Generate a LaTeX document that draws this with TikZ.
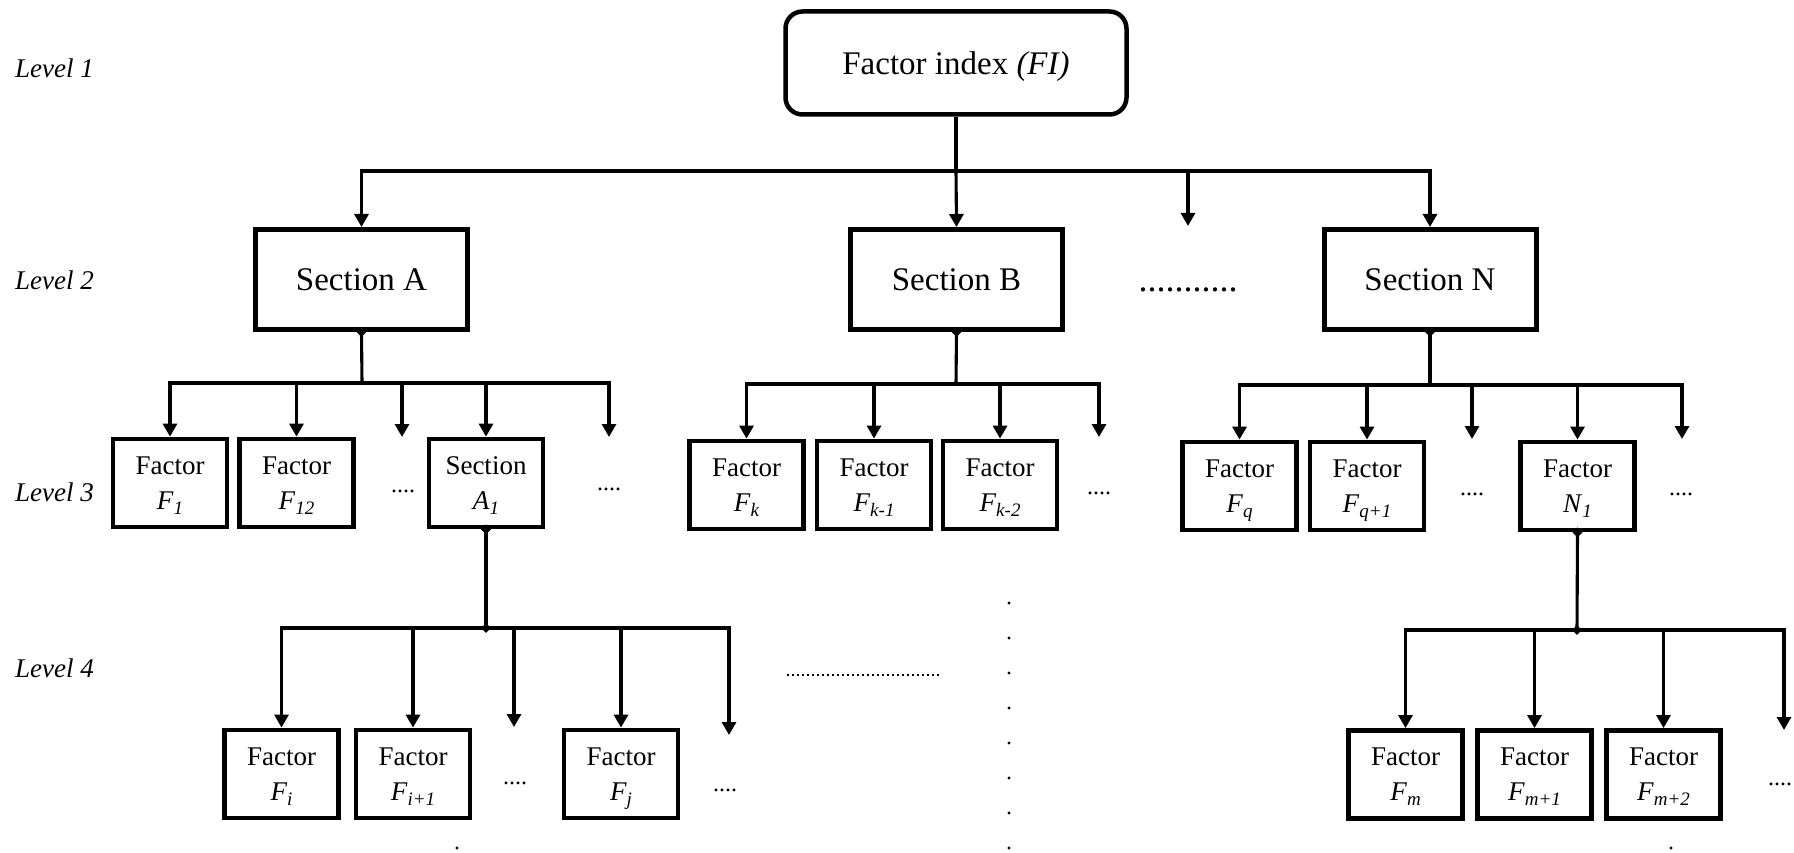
\documentclass[tikz,border=0pt]{standalone}
\usepackage{fontspec}
\setmainfont{Liberation Serif}
\usetikzlibrary{arrows.meta,shapes.geometric}
% italic symbol with a lowered italic index
\newcommand\Fsub[2]{\textit{#1}\raisebox{-5pt}{\fontsize{19}{19}\selectfont\itshape #2}}

\begin{document}
\begin{tikzpicture}[x=1pt,y=-1pt,
  conn/.style={line width=3.1pt},
  arr/.style={line width=3.1pt,-{Triangle[length=13pt,width=14pt]}},
  secbox/.style={draw,line width=5pt,minimum width=212pt,minimum height=100pt,inner sep=0pt,
    font=\fontsize{33}{38}\selectfont},
  fbox/.style={draw,line width=4.8pt,minimum width=114pt,minimum height=88pt,inner sep=0pt,
    align=center,text depth=0pt,font=\fontsize{27}{35}\selectfont},
  lvl/.style={anchor=west,inner sep=0pt,font=\fontsize{27}{30}\selectfont\itshape},
  ell/.style={anchor=base,inner sep=0pt,font=\fontsize{24}{24}\selectfont},
  knot/.style={diamond,fill,inner sep=0pt,minimum size=10pt}
]
\useasboundingbox (0,0) rectangle (1794,853);

% level labels
\node[lvl] (l1) at (15,68)  {Level 1};
\node[lvl] (l2) at (15,280) {Level 2};
\node[lvl] (l3) at (15,492) {Level 3};
\node[lvl] (l4) at (15,668) {Level 4};

% level 1
\node[draw,line width=4.5pt,rounded corners=17pt,minimum width=341pt,minimum height=103pt,
  inner sep=0pt,text depth=0pt,font=\fontsize{33}{38}\selectfont] (top) at (956,63) {Factor index \textit{(FI)}};

% level 2
\node[secbox] (secA) at (361.5,279.5) {Section A};
\node[secbox] (secB) at (956.5,279.5) {Section B};
\node[secbox] (secN) at (1430,279.5) {Section N};
\node[anchor=base,inner sep=0pt,font=\fontsize{36}{36}\selectfont] (dl2) at (1188,291) {...........};

% level 3
\node[fbox] (f1)  at (170,483)   {Factor\\\Fsub{F}{1}};
\node[fbox] (f12) at (296.5,483) {Factor\\\Fsub{F}{12}};
\node[fbox] (a1)  at (486,483)   {Section\\\Fsub{A}{1}};
\node[fbox] (fk)  at (746.5,485) {Factor\\\Fsub{F}{k}};
\node[fbox] (fk1) at (874,485)   {Factor\\\Fsub{F}{k-1}};
\node[fbox] (fk2) at (1000,485)  {Factor\\\Fsub{F}{k-2}};
\node[fbox] (fq)  at (1239.5,486){Factor\\\Fsub{F}{q}};
\node[fbox] (fq1) at (1367,486)  {Factor\\\Fsub{F}{q+1}};
\node[fbox] (n1)  at (1577.5,486){Factor\\\Fsub{N}{1}};
\node[ell] (d31) at (403,492)  {....};
\node[ell] (d32) at (609,490)  {....};
\node[ell] (d33) at (1099,494) {....};
\node[ell] (d34) at (1472,495) {....};
\node[ell] (d35) at (1681,495) {....};

% level 4
\node[fbox] (fi)  at (281.5,774) {Factor\\\Fsub{F}{i}};
\node[fbox] (fi1) at (413,774)   {Factor\\\Fsub{F}{i+1}};
\node[fbox] (fj)  at (621,774)   {Factor\\\Fsub{F}{j}};
\node[fbox] (fm)  at (1405.5,774.5) {Factor\\\Fsub{F}{m}};
\node[fbox] (fm1) at (1534.5,774.5) {Factor\\\Fsub{F}{m+1}};
\node[fbox] (fm2) at (1663.5,774.5) {Factor\\\Fsub{F}{m+2}};
\node[ell] (d41) at (515,784) {....};
\node[ell] (d42) at (725,791) {....};
\node[ell] (d43) at (1780,785) {....};

% free arrow ends and bus junctions
\coordinate (bus1) at (956,171);
\coordinate (e1)   at (1188,226);
\coordinate (busA) at (362,383);
\coordinate (eA1)  at (402,437);
\coordinate (eA2)  at (609,437);
\coordinate (busB) at (956,384);
\coordinate (eB)   at (1099,437);
\coordinate (busN) at (1430,385);
\coordinate (eN1)  at (1472,439);
\coordinate (eN2)  at (1682,439);
\coordinate (busA4) at (486,628);
\coordinate (eA41)  at (514,727);
\coordinate (eA42)  at (729,735);
\coordinate (busN4) at (1577,630);
\coordinate (eN4)   at (1784,730);

% level 1 -> level 2
\draw[conn] (top.south) -- (bus1);
\draw[arr] (bus1) -| (secA.north);
\draw[arr] (bus1) -| (secN.north);
\draw[arr] (bus1) -- (secB.north);
\draw[arr] (e1 |- bus1) -- (e1);

% Section A -> level 3
\draw[conn] (secA.south) -- (busA);
\draw[arr] (busA) -| (f1.north);
\draw[arr] (busA) -| (eA2);
\draw[arr] (f12.north |- busA) -- (f12.north);
\draw[arr] (eA1 |- busA) -- (eA1);
\draw[arr] (a1.north |- busA) -- (a1.north);

% Section B -> level 3
\draw[conn] (secB.south) -- (busB);
\draw[arr] (busB) -| (fk.north);
\draw[arr] (busB) -| (eB);
\draw[arr] (fk1.north |- busB) -- (fk1.north);
\draw[arr] (fk2.north |- busB) -- (fk2.north);

% Section N -> level 3
\draw[conn] (secN.south) -- (busN);
\draw[arr] (busN) -| (fq.north);
\draw[arr] (busN) -| (eN2);
\draw[arr] (fq1.north |- busN) -- (fq1.north);
\draw[arr] (eN1 |- busN) -- (eN1);
\draw[arr] (n1.north |- busN) -- (n1.north);

% Section A1 -> level 4
\draw[conn] (a1.south) -- (busA4);
\draw[arr] (busA4) -| (fi.north);
\draw[arr] (busA4) -| (eA42);
\draw[arr] (fi1.north |- busA4) -- (fi1.north);
\draw[arr] (eA41 |- busA4) -- (eA41);
\draw[arr] (fj.north |- busA4) -- (fj.north);

% Factor N1 -> level 4
\draw[conn] (n1.south) -- (busN4);
\draw[arr] (busN4) -| (fm.north);
\draw[arr] (busN4) -| (eN4);
\draw[arr] (fm1.north |- busN4) -- (fm1.north);
\draw[arr] (fm2.north |- busN4) -- (fm2.north);

% junction marks
\node[knot] (k1) at (secA.south) {};
\node[knot] (k2) at (secB.south) {};
\node[knot] (k3) at (secN.south) {};
\node[knot] (k4) at (a1.south) {};
\node[knot] (k5) at (busA4) {};
\node[knot] (k6) at (n1.south) {};
\node[knot] (k7) at (busN4) {};

% continuation dots
\draw[line width=2.2pt,dash pattern=on 2.2pt off 2.8pt] (787,675) -- (940,675);
\foreach \yy in {603,638,673,708,743,778,813,848}
  \fill (1009,\yy) circle (1.6pt);
\fill (457,848) circle (1.6pt);
\fill (1671,848) circle (1.6pt);
\end{tikzpicture}
\end{document}
